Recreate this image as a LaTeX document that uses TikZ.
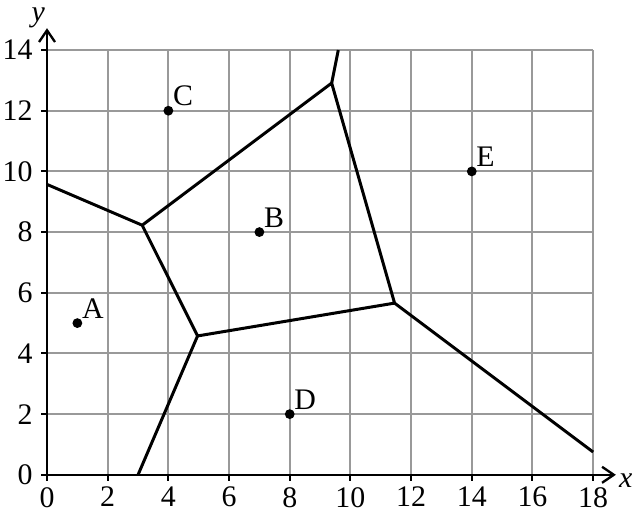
\documentclass[tikz,border=0pt]{standalone}
\usepackage{fontspec}
\setmainfont{Liberation Serif}
\usetikzlibrary{arrows.meta}

\begin{document}
\begin{tikzpicture}[x=0.5cm,y=0.5cm,>={Straight Barb[length=5.5pt,width=7.5pt]},
    font=\fontsize{14}{16}\selectfont]
    \useasboundingbox (-1.55,-1.28) rectangle (19.38,15.65);
    % Sites
    \coordinate (A) at (1,5);
    \coordinate (B) at (7,8);
    \coordinate (C) at (4,12);
    \coordinate (D) at (8,2);
    \coordinate (E) at (14,10);
    % Voronoi vertices (circumcentres of the site triples)
    \coordinate (ABC) at (3.136,8.227);
    \coordinate (ABD) at (4.962,4.577);
    \coordinate (BDE) at (11.455,5.659);
    \coordinate (BCE) at (9.382,12.912);
    % Rays leaving the plot window
    \coordinate (AC0) at (0,9.571);   % AC bisector at x=0
    \coordinate (AD0) at (3,0);       % AD bisector at y=0
    \coordinate (CE0) at (9.6,14);    % CE bisector at y=14
    \coordinate (DE0) at (18,0.75);   % DE bisector at x=18
    % Grid
    \draw[black!40,line width=0.9pt] (0,0) grid[step=2] (18,14);
    % Ticks and tick labels
    \foreach \x in {0,2,...,18}
        \draw[line width=0.9pt] (\x,0) -- (\x,-0.2) node[below,inner sep=2.5pt] {\x};
    \foreach \y in {0,2,...,14}
        \draw[line width=0.9pt] (0,\y) -- (-0.2,\y) node[left,inner sep=3.5pt] {\y};
    % Axes
    \draw[->,line width=1.1pt] (0,0) -- (18.75,0)
        node[anchor=base west,inner sep=0pt,xshift=1pt,yshift=-6pt] {\textit{x}};
    \draw[->,line width=1.1pt] (0,0) -- (0,14.72)
        node[anchor=base east,inner sep=0pt,xshift=-0.5pt,yshift=3pt] {\textit{y}};
    % Cell boundaries
    \draw[line width=1.4pt] (AC0) -- (ABC) -- (ABD) -- (BDE) -- (BCE) -- (ABC);
    \draw[line width=1.4pt] (ABD) -- (AD0);
    \draw[line width=1.4pt] (BCE) -- (CE0);
    \draw[line width=1.4pt] (BDE) -- (DE0);
    % Points
    \fill (A) circle (2.3pt) node[above right,inner sep=2pt] {A};
    \fill (B) circle (2.3pt) node[above right,inner sep=2pt] {B};
    \fill (C) circle (2.3pt) node[above right,inner sep=2pt] {C};
    \fill (D) circle (2.3pt) node[above right,inner sep=2pt] {D};
    \fill (E) circle (2.3pt) node[above right,inner sep=2pt] {E};
\end{tikzpicture}
\end{document}
